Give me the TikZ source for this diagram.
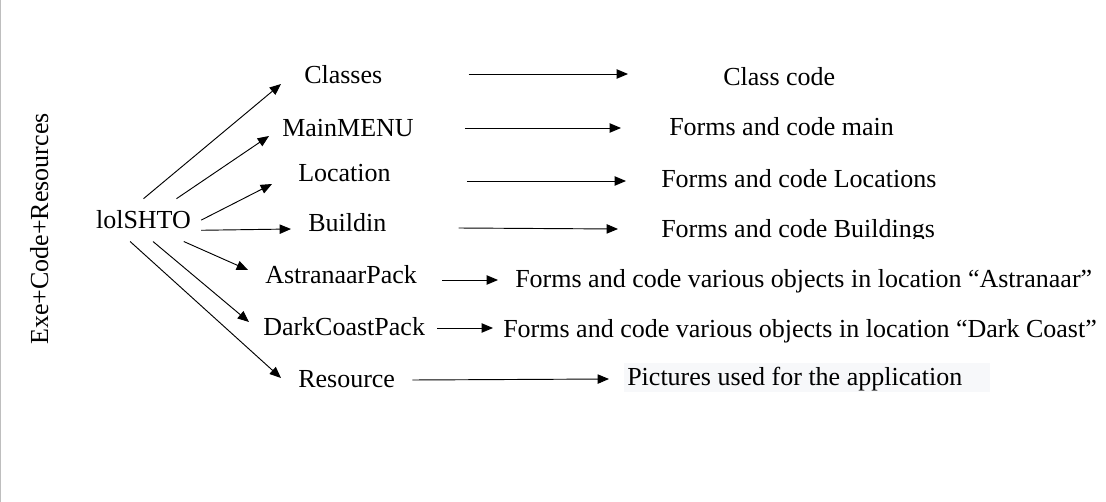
\documentclass[tikz,border=0pt]{standalone}
\usepackage{fontspec}
\setmainfont{Liberation Serif}
\usetikzlibrary{arrows.meta, backgrounds}
\definecolor{LineColor}{RGB}{0,0,0}
\definecolor{FrameColor}{RGB}{190,190,190}
\definecolor{NoteColor}{RGB}{247,248,250}
\tikzset{
  label text/.style={inner sep=0pt, anchor=base west, font=\fontsize{19.5}{23}\selectfont},
  root/.style={label text, anchor=base, inner xsep=7.5pt, inner ysep=9pt},
  link/.style={-{Triangle[length=8.5pt, width=7pt]}, line width=0.7pt, LineColor}
}
\begin{document}
\begin{tikzpicture}[x=0.75pt, y=-0.75pt]
  \useasboundingbox (0,0) rectangle (1106,502);
  % Frame line on the left
  \draw[FrameColor] (0.5,0) -- (0.5,502);

  % Side title
  \node[label text, rotate=90] (title) at (48,345) {Exe+Code+Resources};

  % Root
  \node[root] (lol) at (143.5,229) {lolSHTO};

  % Parts of the project
  \node[label text] (cls) at (304,84) {Classes};
  \node[label text] (menu) at (282,137) {MainMENU};
  \node[label text] (loc) at (298,182) {Location};
  \node[label text] (bld) at (308,232) {Buildin};
  \node[label text] (ast) at (265,283) {AstranaarPack};
  \node[label text] (dark) at (263,335) {DarkCoastPack};
  \node[label text] (res) at (298,387) {Resource};

  % What each part holds
  \node[label text] (clscode) at (723,86) {Class code};
  \node[label text] (fmain) at (669,136) {Forms and code main};
  \node[label text] (floc) at (661,188) {Forms and code Locations};
  \begin{scope}
    \clip (600,200) rectangle (1000,238.6);
    \node[label text] (fbld) at (661,238) {Forms and code Buildings};
  \end{scope}
  \node[label text] (fast) at (515,287) {Forms and code various objects in location ``Astranaar''};
  \node[label text] (fdark) at (503,337) {Forms and code various objects in location ``Dark Coast''};
  \node[label text] (pics) at (627,385) {Pictures used for the application};
  \begin{scope}[on background layer]
    \fill[NoteColor] ([shift={(-3,-22)}]pics.base west) rectangle ([shift={(363,7)}]pics.base west);
  \end{scope}

  % Fan from the root
  \draw[link] (lol.north) -- ([shift={(-23,0)}]cls.base west);
  \draw[link] (lol.33) -- ([shift={(-13,-1)}]menu.base west);
  \draw[link] (lol.east) -- ([shift={(-26,2)}]loc.base west);
  \draw[link] (lol.-10) -- ([shift={(-17,-3)}]bld.base west);
  \draw[link] (lol.-28) -- ([shift={(-17,-13)}]ast.base west);
  \draw[link] (lol.-66) -- ([shift={(-14,-13)}]dark.base west);
  \draw[link] (lol.-122) -- ([shift={(-17,-9)}]res.base west);

  % Part to content
  \draw[link] ([shift={(86,-10)}]cls.base east) -- ([shift={(-95,-12)}]clscode.base west);
  \draw[link] ([shift={(51,-9)}]menu.base east) -- ([shift={(-48,-8)}]fmain.base west);
  \draw[link] ([shift={(76,-1)}]loc.base east) -- ([shift={(-35,-7)}]floc.base west);
  \draw[link] ([shift={(72,-4)}]bld.base east) -- ([shift={(-43,-9)}]fbld.base west);
  \draw[link] ([shift={(25,-3)}]ast.base east) -- ([shift={(-17,-7)}]fast.base west);
  \draw[link] ([shift={(12,-7)}]dark.base east) -- ([shift={(-10,-9)}]fdark.base west);
  \draw[link] ([shift={(17,-7)}]res.base east) -- ([shift={(-18,-6)}]pics.base west);
\end{tikzpicture}
\end{document}
